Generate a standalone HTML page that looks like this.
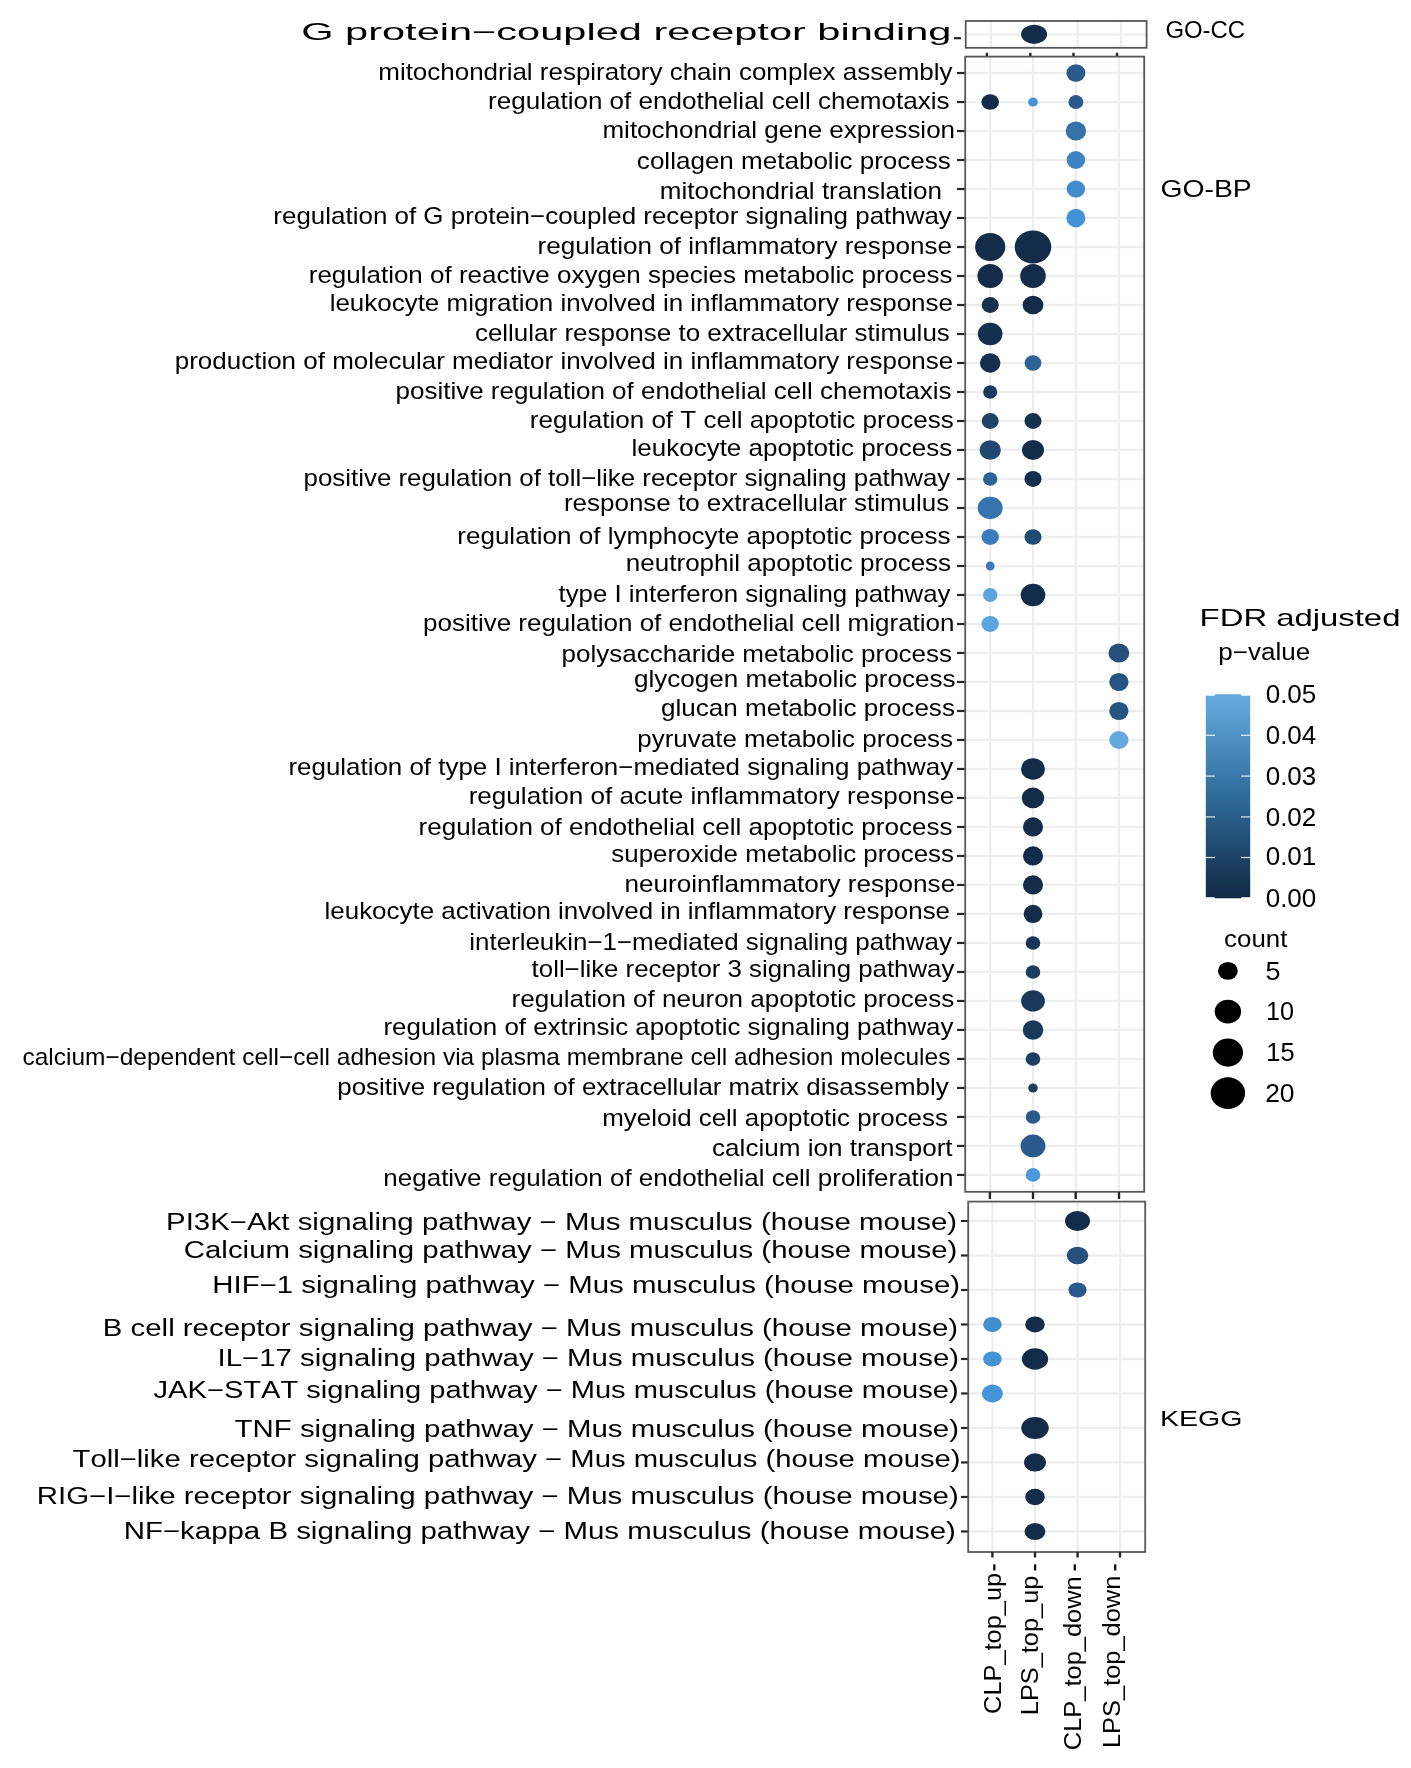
<!DOCTYPE html>
<html><head><meta charset="utf-8"><title>GO/KEGG enrichment dot plot</title>
<style>
html,body{margin:0;padding:0;background:#fff;}
body{width:1411px;height:1768px;overflow:hidden;}
svg{display:block;will-change:transform;}
text{font-family:"Liberation Sans",sans-serif;font-kerning:none;}
</style></head><body>
<svg width="1411" height="1768" viewBox="0 0 1411 1768"><rect width="1411" height="1768" fill="#fff"/><rect x="965.7" y="21.0" width="180.89999999999986" height="26.799999999999997" fill="#fff"/>
<line x1="990.9" y1="21.0" x2="990.9" y2="47.8" stroke="#eeeeee" stroke-width="2.3"/>
<line x1="1034.1" y1="21.0" x2="1034.1" y2="47.8" stroke="#eeeeee" stroke-width="2.3"/>
<line x1="1077.7" y1="21.0" x2="1077.7" y2="47.8" stroke="#eeeeee" stroke-width="2.3"/>
<line x1="1121.0" y1="21.0" x2="1121.0" y2="47.8" stroke="#eeeeee" stroke-width="2.3"/>
<line x1="965.7" y1="34.60" x2="1146.6" y2="34.60" stroke="#eeeeee" stroke-width="2.3"/>
<rect x="965.2" y="56.6" width="179.0" height="1135.2" fill="#fff"/>
<line x1="990.2" y1="56.6" x2="990.2" y2="1191.8" stroke="#eeeeee" stroke-width="2.3"/>
<line x1="1033.0" y1="56.6" x2="1033.0" y2="1191.8" stroke="#eeeeee" stroke-width="2.3"/>
<line x1="1075.9" y1="56.6" x2="1075.9" y2="1191.8" stroke="#eeeeee" stroke-width="2.3"/>
<line x1="1118.9" y1="56.6" x2="1118.9" y2="1191.8" stroke="#eeeeee" stroke-width="2.3"/>
<line x1="965.2" y1="73.02" x2="1144.2" y2="73.02" stroke="#eeeeee" stroke-width="2.3"/>
<line x1="965.2" y1="102.02" x2="1144.2" y2="102.02" stroke="#eeeeee" stroke-width="2.3"/>
<line x1="965.2" y1="131.02" x2="1144.2" y2="131.02" stroke="#eeeeee" stroke-width="2.3"/>
<line x1="965.2" y1="160.01" x2="1144.2" y2="160.01" stroke="#eeeeee" stroke-width="2.3"/>
<line x1="965.2" y1="189.01" x2="1144.2" y2="189.01" stroke="#eeeeee" stroke-width="2.3"/>
<line x1="965.2" y1="218.01" x2="1144.2" y2="218.01" stroke="#eeeeee" stroke-width="2.3"/>
<line x1="965.2" y1="247.01" x2="1144.2" y2="247.01" stroke="#eeeeee" stroke-width="2.3"/>
<line x1="965.2" y1="276.01" x2="1144.2" y2="276.01" stroke="#eeeeee" stroke-width="2.3"/>
<line x1="965.2" y1="305.00" x2="1144.2" y2="305.00" stroke="#eeeeee" stroke-width="2.3"/>
<line x1="965.2" y1="334.00" x2="1144.2" y2="334.00" stroke="#eeeeee" stroke-width="2.3"/>
<line x1="965.2" y1="363.00" x2="1144.2" y2="363.00" stroke="#eeeeee" stroke-width="2.3"/>
<line x1="965.2" y1="392.00" x2="1144.2" y2="392.00" stroke="#eeeeee" stroke-width="2.3"/>
<line x1="965.2" y1="421.00" x2="1144.2" y2="421.00" stroke="#eeeeee" stroke-width="2.3"/>
<line x1="965.2" y1="449.99" x2="1144.2" y2="449.99" stroke="#eeeeee" stroke-width="2.3"/>
<line x1="965.2" y1="478.99" x2="1144.2" y2="478.99" stroke="#eeeeee" stroke-width="2.3"/>
<line x1="965.2" y1="507.99" x2="1144.2" y2="507.99" stroke="#eeeeee" stroke-width="2.3"/>
<line x1="965.2" y1="536.99" x2="1144.2" y2="536.99" stroke="#eeeeee" stroke-width="2.3"/>
<line x1="965.2" y1="565.99" x2="1144.2" y2="565.99" stroke="#eeeeee" stroke-width="2.3"/>
<line x1="965.2" y1="594.98" x2="1144.2" y2="594.98" stroke="#eeeeee" stroke-width="2.3"/>
<line x1="965.2" y1="623.98" x2="1144.2" y2="623.98" stroke="#eeeeee" stroke-width="2.3"/>
<line x1="965.2" y1="652.98" x2="1144.2" y2="652.98" stroke="#eeeeee" stroke-width="2.3"/>
<line x1="965.2" y1="681.98" x2="1144.2" y2="681.98" stroke="#eeeeee" stroke-width="2.3"/>
<line x1="965.2" y1="710.98" x2="1144.2" y2="710.98" stroke="#eeeeee" stroke-width="2.3"/>
<line x1="965.2" y1="739.97" x2="1144.2" y2="739.97" stroke="#eeeeee" stroke-width="2.3"/>
<line x1="965.2" y1="768.97" x2="1144.2" y2="768.97" stroke="#eeeeee" stroke-width="2.3"/>
<line x1="965.2" y1="797.97" x2="1144.2" y2="797.97" stroke="#eeeeee" stroke-width="2.3"/>
<line x1="965.2" y1="826.97" x2="1144.2" y2="826.97" stroke="#eeeeee" stroke-width="2.3"/>
<line x1="965.2" y1="855.97" x2="1144.2" y2="855.97" stroke="#eeeeee" stroke-width="2.3"/>
<line x1="965.2" y1="884.96" x2="1144.2" y2="884.96" stroke="#eeeeee" stroke-width="2.3"/>
<line x1="965.2" y1="913.96" x2="1144.2" y2="913.96" stroke="#eeeeee" stroke-width="2.3"/>
<line x1="965.2" y1="942.96" x2="1144.2" y2="942.96" stroke="#eeeeee" stroke-width="2.3"/>
<line x1="965.2" y1="971.96" x2="1144.2" y2="971.96" stroke="#eeeeee" stroke-width="2.3"/>
<line x1="965.2" y1="1000.96" x2="1144.2" y2="1000.96" stroke="#eeeeee" stroke-width="2.3"/>
<line x1="965.2" y1="1029.95" x2="1144.2" y2="1029.95" stroke="#eeeeee" stroke-width="2.3"/>
<line x1="965.2" y1="1058.95" x2="1144.2" y2="1058.95" stroke="#eeeeee" stroke-width="2.3"/>
<line x1="965.2" y1="1087.95" x2="1144.2" y2="1087.95" stroke="#eeeeee" stroke-width="2.3"/>
<line x1="965.2" y1="1116.95" x2="1144.2" y2="1116.95" stroke="#eeeeee" stroke-width="2.3"/>
<line x1="965.2" y1="1145.95" x2="1144.2" y2="1145.95" stroke="#eeeeee" stroke-width="2.3"/>
<line x1="965.2" y1="1174.94" x2="1144.2" y2="1174.94" stroke="#eeeeee" stroke-width="2.3"/>
<rect x="968.2" y="1201.6" width="177.0" height="350.4000000000001" fill="#fff"/>
<line x1="992.4" y1="1201.6" x2="992.4" y2="1552.0" stroke="#eeeeee" stroke-width="2.3"/>
<line x1="1035.0" y1="1201.6" x2="1035.0" y2="1552.0" stroke="#eeeeee" stroke-width="2.3"/>
<line x1="1077.5" y1="1201.6" x2="1077.5" y2="1552.0" stroke="#eeeeee" stroke-width="2.3"/>
<line x1="1120.2" y1="1201.6" x2="1120.2" y2="1552.0" stroke="#eeeeee" stroke-width="2.3"/>
<line x1="968.2" y1="1221.00" x2="1145.2" y2="1221.00" stroke="#eeeeee" stroke-width="2.3"/>
<line x1="968.2" y1="1255.49" x2="1145.2" y2="1255.49" stroke="#eeeeee" stroke-width="2.3"/>
<line x1="968.2" y1="1289.99" x2="1145.2" y2="1289.99" stroke="#eeeeee" stroke-width="2.3"/>
<line x1="968.2" y1="1324.48" x2="1145.2" y2="1324.48" stroke="#eeeeee" stroke-width="2.3"/>
<line x1="968.2" y1="1358.98" x2="1145.2" y2="1358.98" stroke="#eeeeee" stroke-width="2.3"/>
<line x1="968.2" y1="1393.47" x2="1145.2" y2="1393.47" stroke="#eeeeee" stroke-width="2.3"/>
<line x1="968.2" y1="1427.97" x2="1145.2" y2="1427.97" stroke="#eeeeee" stroke-width="2.3"/>
<line x1="968.2" y1="1462.46" x2="1145.2" y2="1462.46" stroke="#eeeeee" stroke-width="2.3"/>
<line x1="968.2" y1="1496.96" x2="1145.2" y2="1496.96" stroke="#eeeeee" stroke-width="2.3"/>
<line x1="968.2" y1="1531.45" x2="1145.2" y2="1531.45" stroke="#eeeeee" stroke-width="2.3"/>
<ellipse cx="1034.10" cy="34.30" rx="13.00" ry="9.65" fill="#122c49"/>
<ellipse cx="1075.90" cy="73.02" rx="9.45" ry="8.70" fill="#2a5a8b"/>
<ellipse cx="990.20" cy="102.02" rx="8.80" ry="7.80" fill="#122c49"/>
<ellipse cx="1033.00" cy="102.02" rx="4.85" ry="4.45" fill="#4494d5"/>
<ellipse cx="1075.90" cy="102.02" rx="7.50" ry="6.90" fill="#2a5a8b"/>
<ellipse cx="1075.90" cy="131.02" rx="10.20" ry="9.60" fill="#3671aa"/>
<ellipse cx="1075.90" cy="160.01" rx="9.30" ry="8.95" fill="#3f85c4"/>
<ellipse cx="1075.90" cy="189.01" rx="9.30" ry="8.55" fill="#418ccd"/>
<ellipse cx="1075.90" cy="218.01" rx="9.50" ry="9.15" fill="#4494d5"/>
<ellipse cx="990.20" cy="247.01" rx="15.05" ry="14.00" fill="#122c49"/>
<ellipse cx="1033.00" cy="247.01" rx="18.30" ry="16.50" fill="#122c49"/>
<ellipse cx="990.20" cy="276.01" rx="12.80" ry="12.05" fill="#122c49"/>
<ellipse cx="1033.00" cy="276.01" rx="12.80" ry="12.05" fill="#122c49"/>
<ellipse cx="990.20" cy="305.00" rx="8.55" ry="7.95" fill="#153150"/>
<ellipse cx="1033.00" cy="305.00" rx="10.40" ry="9.30" fill="#122c49"/>
<ellipse cx="990.20" cy="334.00" rx="12.30" ry="11.15" fill="#153150"/>
<ellipse cx="990.20" cy="363.00" rx="10.25" ry="9.65" fill="#142f4d"/>
<ellipse cx="1033.00" cy="363.00" rx="8.40" ry="7.65" fill="#2e6396"/>
<ellipse cx="990.20" cy="392.00" rx="7.05" ry="6.85" fill="#1a3b5e"/>
<ellipse cx="990.20" cy="421.00" rx="8.55" ry="7.95" fill="#1e4369"/>
<ellipse cx="1033.00" cy="421.00" rx="8.55" ry="7.95" fill="#153150"/>
<ellipse cx="990.20" cy="449.99" rx="10.65" ry="9.75" fill="#214871"/>
<ellipse cx="1033.00" cy="449.99" rx="11.00" ry="10.00" fill="#122c49"/>
<ellipse cx="990.20" cy="478.99" rx="7.20" ry="6.70" fill="#2e6396"/>
<ellipse cx="1033.00" cy="478.99" rx="8.55" ry="7.95" fill="#142f4d"/>
<ellipse cx="990.20" cy="507.99" rx="12.50" ry="11.15" fill="#3773ae"/>
<ellipse cx="990.20" cy="536.99" rx="8.70" ry="7.95" fill="#3b7bb9"/>
<ellipse cx="1033.00" cy="536.99" rx="8.55" ry="7.80" fill="#224b74"/>
<ellipse cx="990.20" cy="565.99" rx="4.40" ry="4.45" fill="#3a79b6"/>
<ellipse cx="990.20" cy="594.98" rx="7.20" ry="7.00" fill="#5ba4dc"/>
<ellipse cx="1033.00" cy="594.98" rx="12.30" ry="11.30" fill="#122c49"/>
<ellipse cx="990.20" cy="623.98" rx="8.70" ry="7.95" fill="#5ba4dc"/>
<ellipse cx="1118.90" cy="652.98" rx="10.40" ry="9.50" fill="#25507c"/>
<ellipse cx="1118.90" cy="681.98" rx="9.65" ry="9.10" fill="#275583"/>
<ellipse cx="1118.90" cy="710.98" rx="9.65" ry="9.10" fill="#275583"/>
<ellipse cx="1118.90" cy="739.97" rx="9.65" ry="8.95" fill="#62a9de"/>
<ellipse cx="1033.00" cy="768.97" rx="11.90" ry="10.80" fill="#122c49"/>
<ellipse cx="1033.00" cy="797.97" rx="11.15" ry="10.35" fill="#122c49"/>
<ellipse cx="1033.00" cy="826.97" rx="10.05" ry="9.65" fill="#122c49"/>
<ellipse cx="1033.00" cy="855.97" rx="10.05" ry="9.65" fill="#122c49"/>
<ellipse cx="1033.00" cy="884.96" rx="10.05" ry="9.60" fill="#122c49"/>
<ellipse cx="1033.00" cy="913.96" rx="9.40" ry="9.10" fill="#122c49"/>
<ellipse cx="1033.00" cy="942.96" rx="7.30" ry="6.75" fill="#173657"/>
<ellipse cx="1033.00" cy="971.96" rx="7.30" ry="6.75" fill="#1b3e62"/>
<ellipse cx="1033.00" cy="1000.96" rx="11.90" ry="10.65" fill="#19395b"/>
<ellipse cx="1033.00" cy="1029.95" rx="10.25" ry="9.80" fill="#19395b"/>
<ellipse cx="1033.00" cy="1058.95" rx="7.30" ry="6.70" fill="#1b3e62"/>
<ellipse cx="1033.00" cy="1087.95" rx="4.80" ry="4.50" fill="#1b3e62"/>
<ellipse cx="1033.00" cy="1116.95" rx="7.30" ry="6.70" fill="#2a5a8b"/>
<ellipse cx="1033.00" cy="1145.95" rx="12.45" ry="11.40" fill="#2a5a8b"/>
<ellipse cx="1033.00" cy="1174.94" rx="7.30" ry="6.85" fill="#4a99d9"/>
<ellipse cx="1077.50" cy="1221.00" rx="12.50" ry="10.05" fill="#122c49"/>
<ellipse cx="1077.50" cy="1255.49" rx="10.80" ry="8.70" fill="#25507c"/>
<ellipse cx="1077.50" cy="1289.99" rx="9.10" ry="7.60" fill="#2a5a8b"/>
<ellipse cx="992.40" cy="1324.48" rx="9.30" ry="7.60" fill="#428fcf"/>
<ellipse cx="1035.00" cy="1324.48" rx="9.80" ry="7.95" fill="#122c49"/>
<ellipse cx="992.40" cy="1358.98" rx="9.30" ry="7.60" fill="#4494d5"/>
<ellipse cx="1035.00" cy="1358.98" rx="13.15" ry="10.65" fill="#122c49"/>
<ellipse cx="992.40" cy="1393.47" rx="10.55" ry="8.95" fill="#4596d8"/>
<ellipse cx="1035.00" cy="1427.97" rx="13.75" ry="11.00" fill="#122c49"/>
<ellipse cx="1035.00" cy="1462.46" rx="10.95" ry="9.10" fill="#122c49"/>
<ellipse cx="1035.00" cy="1496.96" rx="9.80" ry="8.20" fill="#122c49"/>
<ellipse cx="1035.00" cy="1531.45" rx="10.40" ry="8.55" fill="#122c49"/>
<rect x="965.7" y="21.0" width="180.89999999999986" height="26.799999999999997" fill="none" stroke="#575757" stroke-width="1.8"/>
<rect x="965.2" y="56.6" width="179.0" height="1135.2" fill="none" stroke="#575757" stroke-width="1.8"/>
<rect x="968.2" y="1201.6" width="177.0" height="350.4000000000001" fill="none" stroke="#575757" stroke-width="1.8"/>
<line x1="954.00" y1="38.20" x2="961.00" y2="38.20" stroke="#262626" stroke-width="2.2"/>
<line x1="957.00" y1="73.02" x2="964.50" y2="73.02" stroke="#262626" stroke-width="2.2"/>
<line x1="957.00" y1="102.02" x2="964.50" y2="102.02" stroke="#262626" stroke-width="2.2"/>
<line x1="957.00" y1="131.02" x2="964.50" y2="131.02" stroke="#262626" stroke-width="2.2"/>
<line x1="957.00" y1="160.01" x2="964.50" y2="160.01" stroke="#262626" stroke-width="2.2"/>
<line x1="957.00" y1="189.01" x2="964.50" y2="189.01" stroke="#262626" stroke-width="2.2"/>
<line x1="957.00" y1="218.01" x2="964.50" y2="218.01" stroke="#262626" stroke-width="2.2"/>
<line x1="957.00" y1="247.01" x2="964.50" y2="247.01" stroke="#262626" stroke-width="2.2"/>
<line x1="957.00" y1="276.01" x2="964.50" y2="276.01" stroke="#262626" stroke-width="2.2"/>
<line x1="957.00" y1="305.00" x2="964.50" y2="305.00" stroke="#262626" stroke-width="2.2"/>
<line x1="957.00" y1="334.00" x2="964.50" y2="334.00" stroke="#262626" stroke-width="2.2"/>
<line x1="957.00" y1="363.00" x2="964.50" y2="363.00" stroke="#262626" stroke-width="2.2"/>
<line x1="957.00" y1="392.00" x2="964.50" y2="392.00" stroke="#262626" stroke-width="2.2"/>
<line x1="957.00" y1="421.00" x2="964.50" y2="421.00" stroke="#262626" stroke-width="2.2"/>
<line x1="957.00" y1="449.99" x2="964.50" y2="449.99" stroke="#262626" stroke-width="2.2"/>
<line x1="957.00" y1="478.99" x2="964.50" y2="478.99" stroke="#262626" stroke-width="2.2"/>
<line x1="957.00" y1="507.99" x2="964.50" y2="507.99" stroke="#262626" stroke-width="2.2"/>
<line x1="957.00" y1="536.99" x2="964.50" y2="536.99" stroke="#262626" stroke-width="2.2"/>
<line x1="957.00" y1="565.99" x2="964.50" y2="565.99" stroke="#262626" stroke-width="2.2"/>
<line x1="957.00" y1="594.98" x2="964.50" y2="594.98" stroke="#262626" stroke-width="2.2"/>
<line x1="957.00" y1="623.98" x2="964.50" y2="623.98" stroke="#262626" stroke-width="2.2"/>
<line x1="957.00" y1="652.98" x2="964.50" y2="652.98" stroke="#262626" stroke-width="2.2"/>
<line x1="957.00" y1="681.98" x2="964.50" y2="681.98" stroke="#262626" stroke-width="2.2"/>
<line x1="957.00" y1="710.98" x2="964.50" y2="710.98" stroke="#262626" stroke-width="2.2"/>
<line x1="957.00" y1="739.97" x2="964.50" y2="739.97" stroke="#262626" stroke-width="2.2"/>
<line x1="957.00" y1="768.97" x2="964.50" y2="768.97" stroke="#262626" stroke-width="2.2"/>
<line x1="957.00" y1="797.97" x2="964.50" y2="797.97" stroke="#262626" stroke-width="2.2"/>
<line x1="957.00" y1="826.97" x2="964.50" y2="826.97" stroke="#262626" stroke-width="2.2"/>
<line x1="957.00" y1="855.97" x2="964.50" y2="855.97" stroke="#262626" stroke-width="2.2"/>
<line x1="957.00" y1="884.96" x2="964.50" y2="884.96" stroke="#262626" stroke-width="2.2"/>
<line x1="957.00" y1="913.96" x2="964.50" y2="913.96" stroke="#262626" stroke-width="2.2"/>
<line x1="957.00" y1="942.96" x2="964.50" y2="942.96" stroke="#262626" stroke-width="2.2"/>
<line x1="957.00" y1="971.96" x2="964.50" y2="971.96" stroke="#262626" stroke-width="2.2"/>
<line x1="957.00" y1="1000.96" x2="964.50" y2="1000.96" stroke="#262626" stroke-width="2.2"/>
<line x1="957.00" y1="1029.95" x2="964.50" y2="1029.95" stroke="#262626" stroke-width="2.2"/>
<line x1="957.00" y1="1058.95" x2="964.50" y2="1058.95" stroke="#262626" stroke-width="2.2"/>
<line x1="957.00" y1="1087.95" x2="964.50" y2="1087.95" stroke="#262626" stroke-width="2.2"/>
<line x1="957.00" y1="1116.95" x2="964.50" y2="1116.95" stroke="#262626" stroke-width="2.2"/>
<line x1="957.00" y1="1145.95" x2="964.50" y2="1145.95" stroke="#262626" stroke-width="2.2"/>
<line x1="957.00" y1="1174.94" x2="964.50" y2="1174.94" stroke="#262626" stroke-width="2.2"/>
<line x1="961.00" y1="1221.00" x2="967.60" y2="1221.00" stroke="#262626" stroke-width="2.2"/>
<line x1="961.00" y1="1255.49" x2="967.60" y2="1255.49" stroke="#262626" stroke-width="2.2"/>
<line x1="961.00" y1="1289.99" x2="967.60" y2="1289.99" stroke="#262626" stroke-width="2.2"/>
<line x1="961.00" y1="1324.48" x2="967.60" y2="1324.48" stroke="#262626" stroke-width="2.2"/>
<line x1="961.00" y1="1358.98" x2="967.60" y2="1358.98" stroke="#262626" stroke-width="2.2"/>
<line x1="961.00" y1="1393.47" x2="967.60" y2="1393.47" stroke="#262626" stroke-width="2.2"/>
<line x1="961.00" y1="1427.97" x2="967.60" y2="1427.97" stroke="#262626" stroke-width="2.2"/>
<line x1="961.00" y1="1462.46" x2="967.60" y2="1462.46" stroke="#262626" stroke-width="2.2"/>
<line x1="961.00" y1="1496.96" x2="967.60" y2="1496.96" stroke="#262626" stroke-width="2.2"/>
<line x1="961.00" y1="1531.45" x2="967.60" y2="1531.45" stroke="#262626" stroke-width="2.2"/>
<line x1="986.90" y1="52.80" x2="986.90" y2="56.00" stroke="#262626" stroke-width="2.4"/>
<line x1="1030.30" y1="52.80" x2="1030.30" y2="56.00" stroke="#262626" stroke-width="2.4"/>
<line x1="1073.50" y1="52.80" x2="1073.50" y2="56.00" stroke="#262626" stroke-width="2.4"/>
<line x1="1117.00" y1="52.80" x2="1117.00" y2="56.00" stroke="#262626" stroke-width="2.4"/>
<line x1="989.90" y1="1192.00" x2="989.90" y2="1199.00" stroke="#262626" stroke-width="2.4"/>
<line x1="1033.00" y1="1192.00" x2="1033.00" y2="1199.00" stroke="#262626" stroke-width="2.4"/>
<line x1="1075.70" y1="1192.00" x2="1075.70" y2="1199.00" stroke="#262626" stroke-width="2.4"/>
<line x1="1119.00" y1="1192.00" x2="1119.00" y2="1199.00" stroke="#262626" stroke-width="2.4"/>
<line x1="992.40" y1="1552.00" x2="992.40" y2="1557.50" stroke="#262626" stroke-width="2.4"/>
<line x1="1035.00" y1="1552.00" x2="1035.00" y2="1557.50" stroke="#262626" stroke-width="2.4"/>
<line x1="1077.60" y1="1552.00" x2="1077.60" y2="1557.50" stroke="#262626" stroke-width="2.4"/>
<line x1="1120.00" y1="1552.00" x2="1120.00" y2="1557.50" stroke="#262626" stroke-width="2.4"/>
<text x="301.21" y="39.60" font-size="23.6" textLength="650.17" lengthAdjust="spacingAndGlyphs" fill="#000">G protein−coupled receptor binding</text>
<text x="378.28" y="79.70" font-size="23.8" textLength="574.17" lengthAdjust="spacingAndGlyphs" fill="#000">mitochondrial respiratory chain complex assembly</text>
<text x="488.07" y="109.40" font-size="23.8" textLength="461.47" lengthAdjust="spacingAndGlyphs" fill="#000">regulation of endothelial cell chemotaxis</text>
<text x="602.47" y="138.00" font-size="23.8" textLength="352.61" lengthAdjust="spacingAndGlyphs" fill="#000">mitochondrial gene expression</text>
<text x="636.89" y="169.00" font-size="23.8" textLength="313.95" lengthAdjust="spacingAndGlyphs" fill="#000">collagen metabolic process</text>
<text x="659.87" y="198.60" font-size="23.8" textLength="282.12" lengthAdjust="spacingAndGlyphs" fill="#000">mitochondrial translation</text>
<text x="273.38" y="223.50" font-size="23.8" textLength="678.47" lengthAdjust="spacingAndGlyphs" fill="#000">regulation of G protein−coupled receptor signaling pathway</text>
<text x="537.47" y="254.00" font-size="23.8" textLength="414.49" lengthAdjust="spacingAndGlyphs" fill="#000">regulation of inflammatory response</text>
<text x="308.78" y="283.10" font-size="23.8" textLength="643.66" lengthAdjust="spacingAndGlyphs" fill="#000">regulation of reactive oxygen species metabolic process</text>
<text x="329.65" y="311.40" font-size="23.8" textLength="623.30" lengthAdjust="spacingAndGlyphs" fill="#000">leukocyte migration involved in inflammatory response</text>
<text x="474.90" y="341.40" font-size="23.8" textLength="474.94" lengthAdjust="spacingAndGlyphs" fill="#000">cellular response to extracellular stimulus</text>
<text x="174.73" y="369.40" font-size="23.8" textLength="778.53" lengthAdjust="spacingAndGlyphs" fill="#000">production of molecular mediator involved in inflammatory response</text>
<text x="395.53" y="399.40" font-size="23.8" textLength="555.91" lengthAdjust="spacingAndGlyphs" fill="#000">positive regulation of endothelial cell chemotaxis</text>
<text x="529.87" y="428.20" font-size="23.8" textLength="423.87" lengthAdjust="spacingAndGlyphs" fill="#000">regulation of T cell apoptotic process</text>
<text x="631.55" y="456.10" font-size="23.8" textLength="320.59" lengthAdjust="spacingAndGlyphs" fill="#000">leukocyte apoptotic process</text>
<text x="303.53" y="485.70" font-size="23.8" textLength="646.72" lengthAdjust="spacingAndGlyphs" fill="#000">positive regulation of toll−like receptor signaling pathway</text>
<text x="563.98" y="511.20" font-size="23.8" textLength="385.26" lengthAdjust="spacingAndGlyphs" fill="#000">response to extracellular stimulus</text>
<text x="457.27" y="544.30" font-size="23.8" textLength="493.27" lengthAdjust="spacingAndGlyphs" fill="#000">regulation of lymphocyte apoptotic process</text>
<text x="625.87" y="570.50" font-size="23.8" textLength="325.27" lengthAdjust="spacingAndGlyphs" fill="#000">neutrophil apoptotic process</text>
<text x="558.51" y="601.70" font-size="23.8" textLength="392.04" lengthAdjust="spacingAndGlyphs" fill="#000">type I interferon signaling pathway</text>
<text x="423.03" y="630.70" font-size="23.8" textLength="531.46" lengthAdjust="spacingAndGlyphs" fill="#000">positive regulation of endothelial cell migration</text>
<text x="561.52" y="661.60" font-size="23.8" textLength="390.62" lengthAdjust="spacingAndGlyphs" fill="#000">polysaccharide metabolic process</text>
<text x="633.91" y="686.80" font-size="23.8" textLength="321.74" lengthAdjust="spacingAndGlyphs" fill="#000">glycogen metabolic process</text>
<text x="660.91" y="716.10" font-size="23.8" textLength="294.04" lengthAdjust="spacingAndGlyphs" fill="#000">glucan metabolic process</text>
<text x="637.33" y="746.70" font-size="23.8" textLength="315.71" lengthAdjust="spacingAndGlyphs" fill="#000">pyruvate metabolic process</text>
<text x="288.48" y="774.70" font-size="23.8" textLength="664.67" lengthAdjust="spacingAndGlyphs" fill="#000">regulation of type I interferon−mediated signaling pathway</text>
<text x="468.67" y="804.10" font-size="23.8" textLength="485.59" lengthAdjust="spacingAndGlyphs" fill="#000">regulation of acute inflammatory response</text>
<text x="418.57" y="835.30" font-size="23.8" textLength="533.87" lengthAdjust="spacingAndGlyphs" fill="#000">regulation of endothelial cell apoptotic process</text>
<text x="611.28" y="862.40" font-size="23.8" textLength="342.76" lengthAdjust="spacingAndGlyphs" fill="#000">superoxide metabolic process</text>
<text x="624.47" y="892.30" font-size="23.8" textLength="330.69" lengthAdjust="spacingAndGlyphs" fill="#000">neuroinflammatory response</text>
<text x="324.55" y="919.10" font-size="23.8" textLength="625.50" lengthAdjust="spacingAndGlyphs" fill="#000">leukocyte activation involved in inflammatory response</text>
<text x="469.27" y="949.70" font-size="23.8" textLength="482.58" lengthAdjust="spacingAndGlyphs" fill="#000">interleukin−1−mediated signaling pathway</text>
<text x="531.61" y="976.80" font-size="23.8" textLength="422.74" lengthAdjust="spacingAndGlyphs" fill="#000">toll−like receptor 3 signaling pathway</text>
<text x="511.57" y="1006.70" font-size="23.8" textLength="442.77" lengthAdjust="spacingAndGlyphs" fill="#000">regulation of neuron apoptotic process</text>
<text x="383.48" y="1034.50" font-size="23.8" textLength="569.97" lengthAdjust="spacingAndGlyphs" fill="#000">regulation of extrinsic apoptotic signaling pathway</text>
<text x="22.46" y="1064.80" font-size="23.8" textLength="927.92" lengthAdjust="spacingAndGlyphs" fill="#000">calcium−dependent cell−cell adhesion via plasma membrane cell adhesion molecules</text>
<text x="337.33" y="1094.80" font-size="23.8" textLength="611.32" lengthAdjust="spacingAndGlyphs" fill="#000">positive regulation of extracellular matrix disassembly</text>
<text x="602.28" y="1125.90" font-size="23.8" textLength="345.66" lengthAdjust="spacingAndGlyphs" fill="#000">myeloid cell apoptotic process</text>
<text x="712.09" y="1155.60" font-size="23.8" textLength="240.50" lengthAdjust="spacingAndGlyphs" fill="#000">calcium ion transport</text>
<text x="383.38" y="1185.50" font-size="23.8" textLength="570.11" lengthAdjust="spacingAndGlyphs" fill="#000">negative regulation of endothelial cell proliferation</text>
<text x="166.09" y="1230.00" font-size="23.5" textLength="791.04" lengthAdjust="spacingAndGlyphs" fill="#000">PI3K−Akt signaling pathway − Mus musculus (house mouse)</text>
<text x="183.81" y="1258.00" font-size="23.5" textLength="773.62" lengthAdjust="spacingAndGlyphs" fill="#000">Calcium signaling pathway − Mus musculus (house mouse)</text>
<text x="212.39" y="1293.10" font-size="23.5" textLength="747.63" lengthAdjust="spacingAndGlyphs" fill="#000">HIF−1 signaling pathway − Mus musculus (house mouse)</text>
<text x="102.79" y="1335.50" font-size="23.5" textLength="855.33" lengthAdjust="spacingAndGlyphs" fill="#000">B cell receptor signaling pathway − Mus musculus (house mouse)</text>
<text x="217.59" y="1365.60" font-size="23.5" textLength="741.43" lengthAdjust="spacingAndGlyphs" fill="#000">IL−17 signaling pathway − Mus musculus (house mouse)</text>
<text x="153.55" y="1397.50" font-size="23.5" textLength="805.16" lengthAdjust="spacingAndGlyphs" fill="#000">JAK−STAT signaling pathway − Mus musculus (house mouse)</text>
<text x="234.64" y="1436.60" font-size="23.5" textLength="724.38" lengthAdjust="spacingAndGlyphs" fill="#000">TNF signaling pathway − Mus musculus (house mouse)</text>
<text x="72.64" y="1467.20" font-size="23.5" textLength="887.97" lengthAdjust="spacingAndGlyphs" fill="#000">Toll−like receptor signaling pathway − Mus musculus (house mouse)</text>
<text x="36.79" y="1504.30" font-size="23.5" textLength="921.93" lengthAdjust="spacingAndGlyphs" fill="#000">RIG−I−like receptor signaling pathway − Mus musculus (house mouse)</text>
<text x="123.69" y="1539.40" font-size="23.5" textLength="832.14" lengthAdjust="spacingAndGlyphs" fill="#000">NF−kappa B signaling pathway − Mus musculus (house mouse)</text>
<text x="0" y="0" font-size="23.3" textLength="141.05" lengthAdjust="spacingAndGlyphs" transform="translate(1000.50,1713.89) rotate(-90)">CLP_top_up</text>
<text x="0" y="0" font-size="23.3" textLength="139.54" lengthAdjust="spacingAndGlyphs" transform="translate(1038.20,1715.18) rotate(-90)">LPS_top_up</text>
<text x="0" y="0" font-size="23.3" textLength="173.94" lengthAdjust="spacingAndGlyphs" transform="translate(1080.50,1750.19) rotate(-90)">CLP_top_down</text>
<text x="0" y="0" font-size="23.3" textLength="172.44" lengthAdjust="spacingAndGlyphs" transform="translate(1120.10,1748.09) rotate(-90)">LPS_top_down</text>
<rect x="993.15" y="1564.3" width="2.3" height="6.2" fill="#111"/>
<rect x="1033.95" y="1564.3" width="2.3" height="6.2" fill="#111"/>
<rect x="1073.65" y="1564.3" width="2.3" height="6.2" fill="#111"/>
<rect x="1114.05" y="1564.3" width="2.3" height="6.2" fill="#111"/>
<text x="1165.40" y="38.20" font-size="23.2" textLength="79.71" lengthAdjust="spacingAndGlyphs" fill="#000">GO-CC</text>
<text x="1160.48" y="197.00" font-size="24.0" textLength="91.22" lengthAdjust="spacingAndGlyphs" fill="#000">GO-BP</text>
<text x="1159.96" y="1425.90" font-size="22.3" textLength="82.47" lengthAdjust="spacingAndGlyphs" fill="#000">KEGG</text>
<text x="1199.61" y="625.80" font-size="23.4" textLength="200.81" lengthAdjust="spacingAndGlyphs" fill="#000">FDR adjusted</text>
<text x="1218.32" y="660.40" font-size="23.3" textLength="91.94" lengthAdjust="spacingAndGlyphs" fill="#000">p−value</text>
<defs><linearGradient id="cb" x1="0" y1="0" x2="0" y2="1"><stop offset="0.00" stop-color="#65ace1"/><stop offset="0.10" stop-color="#5a9fd3"/><stop offset="0.20" stop-color="#5092c4"/><stop offset="0.30" stop-color="#4585b6"/><stop offset="0.40" stop-color="#3a78a9"/><stop offset="0.50" stop-color="#2f6c9b"/><stop offset="0.60" stop-color="#295e89"/><stop offset="0.70" stop-color="#235078"/><stop offset="0.80" stop-color="#1d4367"/><stop offset="0.90" stop-color="#173656"/><stop offset="1.00" stop-color="#112a46"/></linearGradient></defs>
<rect x="1205.8" y="694.2" width="44.4" height="204.1" fill="url(#cb)"/>
<rect x="1205" y="693.5" width="9.8" height="2.2" fill="#fff"/>
<rect x="1241.2" y="693.5" width="10" height="2.2" fill="#fff"/>
<rect x="1205" y="897.2" width="9.8" height="2" fill="#fff"/>
<rect x="1241.2" y="897.2" width="10" height="2" fill="#fff"/>
<line x1="1205.6" y1="735.3" x2="1215" y2="735.3" stroke="#fff" stroke-width="1.2" stroke-opacity="0.85"/>
<line x1="1241" y1="735.3" x2="1250.4" y2="735.3" stroke="#fff" stroke-width="1.2" stroke-opacity="0.85"/>
<line x1="1205.6" y1="776.1" x2="1215" y2="776.1" stroke="#fff" stroke-width="1.2" stroke-opacity="0.85"/>
<line x1="1241" y1="776.1" x2="1250.4" y2="776.1" stroke="#fff" stroke-width="1.2" stroke-opacity="0.85"/>
<line x1="1205.6" y1="816.9" x2="1215" y2="816.9" stroke="#fff" stroke-width="1.2" stroke-opacity="0.85"/>
<line x1="1241" y1="816.9" x2="1250.4" y2="816.9" stroke="#fff" stroke-width="1.2" stroke-opacity="0.85"/>
<line x1="1205.6" y1="857.5" x2="1215" y2="857.5" stroke="#fff" stroke-width="1.2" stroke-opacity="0.85"/>
<line x1="1241" y1="857.5" x2="1250.4" y2="857.5" stroke="#fff" stroke-width="1.2" stroke-opacity="0.85"/>
<text x="1265.68" y="703.0" font-size="25.0" textLength="50.61" lengthAdjust="spacingAndGlyphs">0.05</text>
<text x="1265.68" y="744.0" font-size="25.0" textLength="50.61" lengthAdjust="spacingAndGlyphs">0.04</text>
<text x="1265.68" y="785.1" font-size="25.0" textLength="50.61" lengthAdjust="spacingAndGlyphs">0.03</text>
<text x="1265.68" y="825.6" font-size="25.0" textLength="50.61" lengthAdjust="spacingAndGlyphs">0.02</text>
<text x="1265.68" y="865.4" font-size="25.0" textLength="50.61" lengthAdjust="spacingAndGlyphs">0.01</text>
<text x="1265.68" y="906.5" font-size="25.0" textLength="50.61" lengthAdjust="spacingAndGlyphs">0.00</text>
<text x="1224.10" y="947.40" font-size="24.3" textLength="63.29" lengthAdjust="spacingAndGlyphs" fill="#000">count</text>
<ellipse cx="1227.90" cy="970.90" rx="9.90" ry="8.95" fill="#000"/>
<ellipse cx="1227.90" cy="1011.60" rx="13.25" ry="11.90" fill="#000"/>
<ellipse cx="1227.90" cy="1052.60" rx="15.15" ry="14.05" fill="#000"/>
<ellipse cx="1227.90" cy="1093.10" rx="17.25" ry="15.85" fill="#000"/>
<text x="1265.42" y="979.60" font-size="25.5" textLength="15.01" lengthAdjust="spacingAndGlyphs" fill="#000">5</text>
<text x="1266.08" y="1020.20" font-size="25.5" textLength="28.00" lengthAdjust="spacingAndGlyphs" fill="#000">10</text>
<text x="1266.26" y="1060.90" font-size="25.5" textLength="28.31" lengthAdjust="spacingAndGlyphs" fill="#000">15</text>
<text x="1265.17" y="1102.20" font-size="25.5" textLength="29.36" lengthAdjust="spacingAndGlyphs" fill="#000">20</text></svg>
</body></html>
